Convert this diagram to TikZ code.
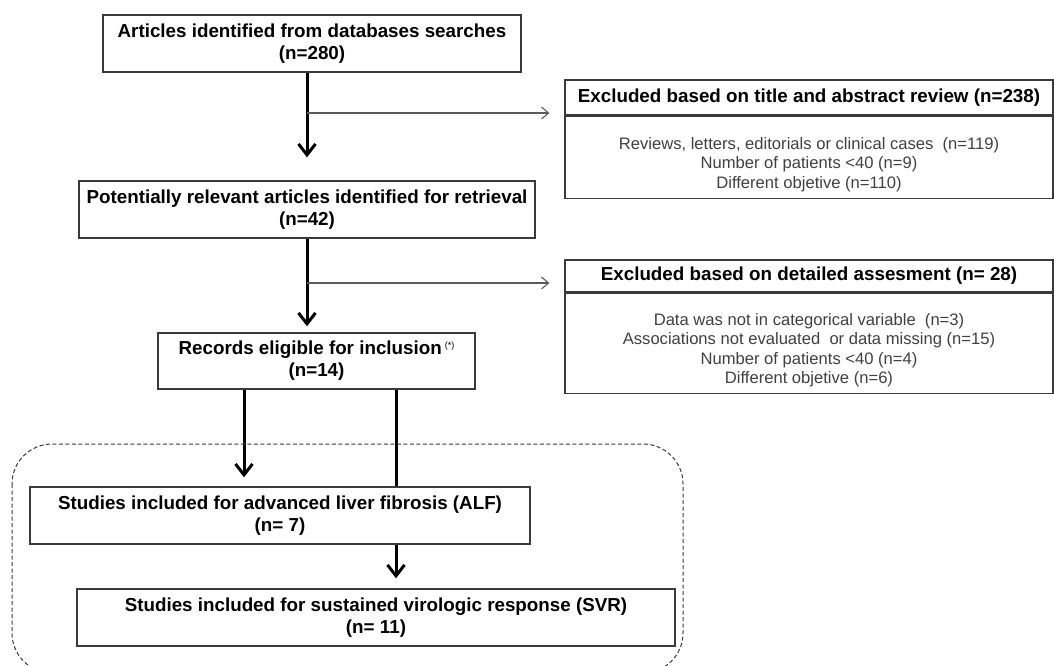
\documentclass[tikz,border=0pt]{standalone}
\usepackage{fontspec}
\setmainfont{Liberation Sans}
\usepackage{xcolor}
\usetikzlibrary{positioning, arrows.meta, calc}

\definecolor{boxline}{HTML}{3A3A3A}
\definecolor{bodytext}{HTML}{404040}
\definecolor{sideline}{HTML}{5A5A5A}

\begin{document}
\begin{tikzpicture}[x=1pt, y=-1pt,
    mainbox/.style={draw=boxline, line width=1.3pt, align=center, inner sep=0pt,
      font={\fontsize{18.8pt}{22pt}\selectfont\bfseries}},
    exhead/.style={draw=boxline, line width=1.3pt, minimum width=488pt,
      inner sep=0pt, font={\fontsize{18.8pt}{22pt}\selectfont\bfseries}},
    exbody/.style={draw=boxline, line width=1.3pt, minimum width=488pt,
      inner sep=0pt, align=center, text=bodytext,
      font={\fontsize{16.6pt}{19.5pt}\selectfont}},
    bigarrow/.style={line width=3pt, -{Straight Barb[length=11pt, width=17pt]}},
    sidearrow/.style={draw=sideline, line width=1.1pt,
      -{Straight Barb[length=7pt, width=12pt]}, shorten >=15pt}]
  \useasboundingbox (0,0) rectangle (1054,666);
  % Main flow
  \node[mainbox, minimum width=418pt, minimum height=57pt] (art) at (312,43.5)
    {Articles identified from databases searches\\(n=280)};
  \node[mainbox, minimum width=456pt, minimum height=57pt] (pot) at (307,209.5)
    {Potentially relevant articles identified for retrieval\\(n=42)};
  \node[mainbox, minimum width=317pt, minimum height=56pt] (rec) at (316.5,361)
    {Records eligible for inclusion\,\raisebox{6pt}{\fontsize{9pt}{9pt}\selectfont\mdseries(*)}\\(n=14)};
  \node[mainbox, minimum width=500pt, minimum height=57pt] (alf) at (280,515.5)
    {Studies included for advanced liver fibrosis (ALF)\\(n= 7)};
  \node[mainbox, minimum width=598pt, minimum height=57pt] (svr) at (376,617.5)
    {Studies included for sustained virologic response (SVR)\\(n= 11)};
  % Exclusions
  \node[exhead, minimum height=35pt] (exAhead) at (809,97.5)
    {Excluded based on title and abstract review (n=238)};
  \node[exbody, minimum height=82pt, below=0pt of exAhead] (exAbody)
    {\rule{0pt}{26pt}Reviews, letters, editorials or clinical cases\ \ (n=119)\\
     Number of patients <40 (n=9)\\Different objetive (n=110)};
  \node[exhead, minimum height=32pt] (exBhead) at (809,276)
    {Excluded based on detailed assesment (n= 28)};
  \node[exbody, minimum height=100pt, below=0pt of exBhead] (exBbody)
    {\rule{0pt}{26pt}Data was not in categorical variable\ \ (n=3)\\
     Associations not evaluated\ \ or data missing (n=15)\\
     Number of patients <40 (n=4)\\Different objetive (n=6)};
  % Connectors
  \draw[bigarrow, shorten >=23pt] (art.south -| pot.north) -- (pot.north);
  \draw[bigarrow, shorten >=6pt] (pot.south) -- (pot.south |- rec.north);
  \coordinate (brA) at (307,113);
  \coordinate (brB) at (307,283);
  \draw[sidearrow] (brA) -- (brA -| exAbody.west);
  \draw[sidearrow] (brB) -- (brB -| exBbody.west);
  \draw[bigarrow, shorten >=9pt] ([xshift=-72.5pt]rec.south)
    -- ([xshift=-72.5pt]rec.south |- alf.north);
  \draw[line width=3pt] ([xshift=79.5pt]rec.south)
    -- ([xshift=79.5pt]rec.south |- alf.north);
  \draw[bigarrow, shorten >=10pt] ([xshift=116pt]alf.south)
    -- ([xshift=116pt]alf.south |- svr.north);
  % Included studies
  \draw[boxline, line width=1pt, dash pattern=on 4pt off 2.5pt, rounded corners=40pt]
    (12,444) rectangle (683,673);
\end{tikzpicture}
\end{document}
